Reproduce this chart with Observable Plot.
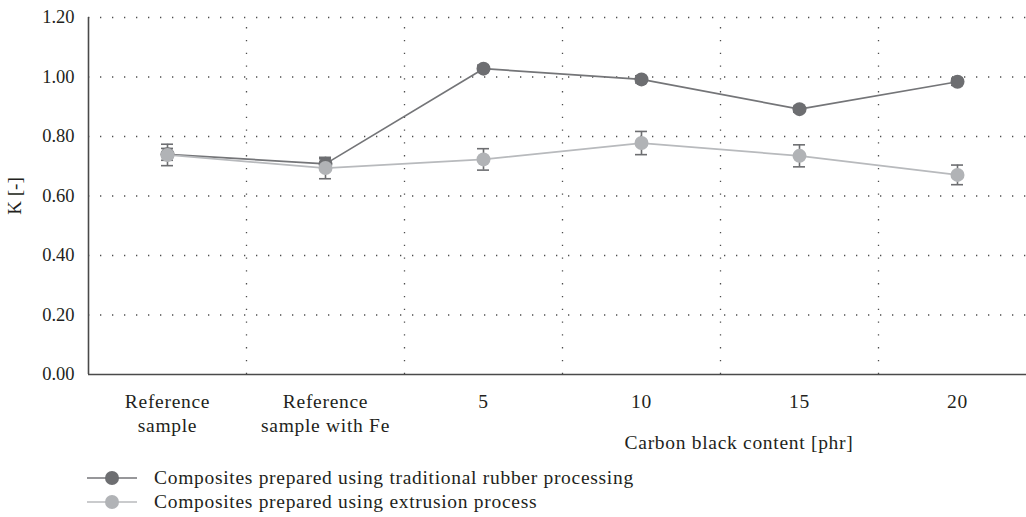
<!DOCTYPE html>
<html><head><meta charset="utf-8">
<script src="https://cdn.jsdelivr.net/npm/d3@7"></script>
<script src="https://cdn.jsdelivr.net/npm/@observablehq/plot@0.6"></script>
<style>
html,body{margin:0;padding:0;background:#fff;overflow:hidden;width:1026px;height:517px}
#wrap{position:relative;width:1026px;height:517px;overflow:hidden;font-family:"Liberation Serif",serif;color:#231f20}
#chart{position:absolute;left:0;top:0}
#chart svg{max-width:none !important}
#chart svg g[aria-label="x-axis tick label"] text{letter-spacing:0.7px}
#xlabel{position:absolute;top:432px;left:739px;transform:translateX(-50%);font-size:19.5px;letter-spacing:0.7px;white-space:nowrap}
#ylabel{position:absolute;left:15px;top:196px;transform:translate(-50%,-50%) rotate(-90deg);font-size:19px;white-space:nowrap}
#legend{position:absolute;left:86px;top:466px;font-size:19.5px;letter-spacing:0.7px}
.row{display:flex;align-items:center;height:24px}
.row svg{margin-right:16px}
</style></head><body>
<div id="wrap"><div id="chart"></div><div id="ylabel">K [-]</div><div id="xlabel">Carbon black content [phr]</div><div id="legend"></div></div>
<script>
const categories = ["Reference\nsample", "Reference\nsample with Fe", "5", "10", "15", "20"];
const seriesNames = ["Composites prepared using traditional rubber processing", "Composites prepared using extrusion process"];
const seriesColors = ["#6d6e71", "#b1b3b6"];
const lineColors = ["#747578", "#b8babd"];
const traditional = [0.740, 0.708, 1.028, 0.992, 0.892, 0.984];
const traditionalErr = [0.020, 0.017, 0.012, 0.012, 0.010, 0.012];
const extrusion = [0.738, 0.694, 0.723, 0.778, 0.735, 0.671];
const extrusionErr = [0.036, 0.036, 0.036, 0.039, 0.037, 0.033];
const yTicks = [0, 0.2, 0.4, 0.6, 0.8, 1.0, 1.2];

const idx = categories.map((_, i) => i);
const boundaries = categories.slice(1).map((_, i) => i + 0.5);
const capHalf = 0.038;
const seriesData = [traditional, extrusion].map((vals, s) =>
  vals.map((v, i) => ({s, i, v, e: [traditionalErr, extrusionErr][s][i]})));

const marks = [
  Plot.ruleY(yTicks.slice(1), {stroke: "#4d4d4d", strokeWidth: 1.3, strokeDasharray: "1.3,10.7", strokeDashoffset: -12}),
  Plot.ruleX(boundaries, {y1: 0, y2: yTicks[yTicks.length - 1], stroke: "#4d4d4d", strokeWidth: 1.3, strokeDasharray: "1.3,11.5"}),
  Plot.ruleX([-0.5], {y1: 0, y2: yTicks[yTicks.length - 1], stroke: "#4a4a4a", strokeWidth: 1.6}),
  Plot.ruleY([0], {stroke: "#4a4a4a", strokeWidth: 1.6}),
];
seriesData.forEach((d, s) => {
  marks.push(
    Plot.ruleX(d, {x: "i", y1: r => r.v - r.e, y2: r => r.v + r.e, stroke: "#6d6e71", strokeWidth: 1.6}),
    Plot.ruleY(d, {y: r => r.v - r.e, x1: r => r.i - capHalf, x2: r => r.i + capHalf, stroke: "#6d6e71", strokeWidth: 1.6}),
    Plot.ruleY(d, {y: r => r.v + r.e, x1: r => r.i - capHalf, x2: r => r.i + capHalf, stroke: "#6d6e71", strokeWidth: 1.6}),
    Plot.line(d, {x: "i", y: "v", stroke: lineColors[s], strokeWidth: 1.7}),
    Plot.dot(d, {x: "i", y: "v", r: 7, fill: seriesColors[s], stroke: "none"})
  );
});
marks.push(
  Plot.axisY({ticks: yTicks, tickFormat: d3.format(".2f"), tickSize: 0, tickPadding: 14, label: null, fontSize: 18.5}),
  Plot.axisX({ticks: idx, tickFormat: i => categories[i], tickSize: 0, tickPadding: 16, label: null, fontSize: 19.5, lineHeight: 1.25})
);

const chart = Plot.plot({
  width: 1050, height: 455,
  marginLeft: 88, marginRight: 14, marginTop: 17, marginBottom: 81,
  style: {fontFamily: "Liberation Serif, serif", fontSize: "18.5px", color: "#231f20", background: "#fff", maxWidth: "none"},
  x: {type: "linear", domain: [-0.5, categories.length - 0.5]},
  y: {domain: [0, yTicks[yTicks.length - 1]]},
  marks
});
document.getElementById("chart").appendChild(chart);

const legend = document.getElementById("legend");
seriesNames.forEach((name, s) => {
  const row = document.createElement("div");
  row.className = "row";
  row.innerHTML = `<svg width="52" height="16"><line x1="1" x2="51" y1="8" y2="8" stroke="${lineColors[s]}" stroke-width="1.7"/><circle cx="26" cy="8" r="7" fill="${seriesColors[s]}"/></svg><span>${name}</span>`;
  legend.appendChild(row);
});
</script>
</body></html>
